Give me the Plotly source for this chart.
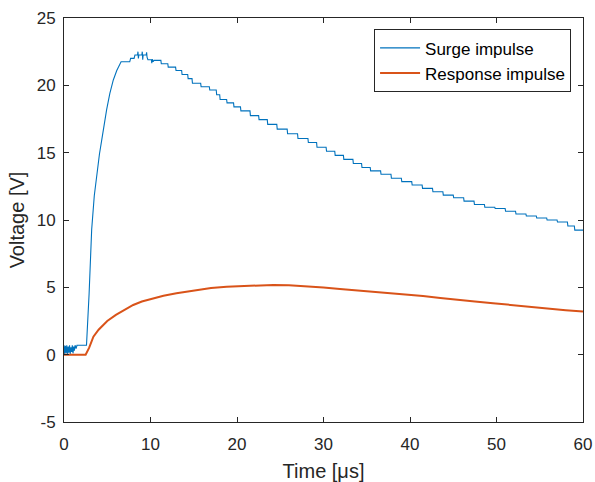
import plotly.graph_objects as go

# Surge impulse (blue)
surge_t = [0.0, 0.08, 0.16, 0.24, 0.32, 0.40, 0.48, 0.56, 0.64, 0.72, 0.80, 0.88, 0.96, 1.04, 1.12, 1.20, 1.28, 1.40, 1.50, 2.60,
           2.9, 3.2, 3.5, 3.8, 4.1, 4.35, 4.6, 4.93, 5.3, 5.7, 6.1, 6.5, 6.6, 7.6, 7.7, 8.1, 8.2, 8.5, 8.55, 8.6, 8.65, 9.0, 9.05,
           9.1, 9.15, 9.5, 9.55, 9.6, 9.7, 10.1, 10.15, 10.2, 10.3, 10.4, 11.2, 11.25, 12.0, 12.05, 12.9, 12.95, 13.6, 13.65,
           14.3, 14.35, 14.8, 14.85, 15.8, 15.85, 16.8, 16.85, 17.6, 17.65, 18.0, 18.05, 18.8, 18.85, 19.6, 19.65, 20.4, 20.45,
           21.5, 21.55, 22.5, 22.55, 23.5, 23.55, 24.6, 24.65, 25.8, 25.85, 27.0, 27.05, 28.2, 28.25, 29.2, 29.25, 30.3, 30.35,
           31.3, 31.35, 32.3, 32.35, 33.4, 33.45, 34.4, 34.45, 35.4, 35.45, 36.6, 36.65, 37.8, 37.85, 39.0, 39.05, 40.2, 40.25,
           41.4, 41.45, 42.6, 42.65, 43.8, 43.85, 45.0, 45.05, 46.2, 46.25, 47.4, 47.45, 48.6, 48.65, 49.8, 49.85, 51.0, 51.05,
           52.2, 52.25, 53.4, 53.45, 54.6, 54.65, 55.8, 55.85, 57.0, 57.05, 58.2, 58.25, 59.0, 59.05, 60.0]
surge_v = [0.7, 0.05, 0.65, 0.1, 0.7, 0.0, 0.6, 0.15, 0.7, 0.05, 0.55, 0.2, 0.7, 0.1, 0.6, 0.3, 0.7, 0.45, 0.7, 0.7,
           4.5, 9.3, 11.8, 13.5, 14.9, 15.9, 17.0, 18.2, 19.4, 20.4, 21.1, 21.6, 21.75, 21.75, 22.0, 22.0, 22.25, 22.25, 22.5, 22.0, 22.25, 22.25, 22.5,
           21.9, 22.25, 22.25, 22.45, 22.1, 21.9, 21.9, 21.65, 21.95, 21.75, 21.85, 21.85, 21.6, 21.6, 21.35, 21.35, 21.1, 21.1, 20.8,
           20.8, 20.5, 20.5, 20.15, 20.15, 19.9, 19.9, 19.65, 19.65, 19.3, 19.3, 18.95, 18.95, 18.7, 18.7, 18.4, 18.4, 18.1,
           18.1, 17.75, 17.75, 17.45, 17.45, 17.1, 17.1, 16.75, 16.75, 16.4, 16.4, 16.05, 16.05, 15.75, 15.75, 15.4, 15.4, 15.1,
           15.1, 14.8, 14.8, 14.5, 14.5, 14.2, 14.2, 13.9, 13.9, 13.65, 13.65, 13.4, 13.4, 13.1, 13.1, 12.85, 12.85, 12.6,
           12.6, 12.35, 12.35, 12.1, 12.1, 11.85, 11.85, 11.65, 11.65, 11.4, 11.4, 11.15, 11.15, 10.95, 10.95, 10.85, 10.85, 10.65,
           10.65, 10.45, 10.45, 10.3, 10.3, 10.15, 10.15, 10.0, 10.0, 9.85, 9.85, 9.55, 9.55, 9.25, 9.25]

# Response impulse (orange)
response_t = [0, 2.5, 2.9, 3.4, 4.0, 4.5, 5.0, 6.0, 7.0, 8.0, 9.0, 10.3, 11.5, 13.0, 14.5, 15.7, 17.0, 18.8, 20.3, 21.9,
              24.2, 26.0, 28.0, 30.0, 31.9, 33.8, 35.8, 37.7, 39.6, 41.5, 43.5, 45.5, 47.5, 49.6, 51.7, 53.8, 55.9, 58.0, 60]
response_v = [0, 0, 0.5, 1.34, 1.85, 2.2, 2.5, 2.95, 3.35, 3.69, 3.95, 4.19, 4.38, 4.56, 4.72, 4.86, 4.95, 5.05, 5.08, 5.15,
              5.18, 5.15, 5.08, 4.98, 4.88, 4.78, 4.68, 4.58, 4.49, 4.35, 4.2, 4.05, 3.95, 3.82, 3.68, 3.55, 3.42, 3.3, 3.2]

x_ticks = [0, 10, 20, 30, 40, 50, 60]
y_ticks = [-5, 0, 5, 10, 15, 20, 25]

FONT = "Liberation Sans, Arial, sans-serif"
AX = "#262626"

fig = go.Figure()
fig.add_trace(go.Scatter(x=surge_t, y=surge_v, mode="lines", name="Surge impulse",
                         line=dict(color="#0072BD", width=1.1)))
fig.add_trace(go.Scatter(x=response_t, y=response_v, mode="lines", name="Response impulse",
                         line=dict(color="#D95319", width=2.0)))

axis_common = dict(showgrid=False, zeroline=False, showline=True, linecolor=AX, linewidth=1,
                   ticks="inside", ticklen=5, tickcolor=AX, mirror="ticks", automargin=False,
                   tickfont=dict(family=FONT, size=17, color=AX))
fig.update_xaxes(range=[0, 60], tickvals=x_ticks, ticktext=[str(v) for v in x_ticks],
                 ticklabelstandoff=7,
                 title=dict(text="Time [μs]", font=dict(family=FONT, size=20, color=AX), standoff=10),
                 **axis_common)
fig.update_yaxes(range=[-5, 25], tickvals=y_ticks, ticktext=[str(v) for v in y_ticks],
                 ticklabelstandoff=4,
                 title=dict(text="Voltage [V]", font=dict(family=FONT, size=20, color=AX), standoff=6),
                 **axis_common)

fig.update_layout(
    width=595, height=482,
    margin=dict(l=64, r=12, t=18, b=60),
    paper_bgcolor="white", plot_bgcolor="white",
    font=dict(family=FONT, color=AX),
    showlegend=True,
    legend=dict(x=0.977, y=0.972, xanchor="right", yanchor="top",
                bgcolor="white", bordercolor=AX, borderwidth=1,
                font=dict(family=FONT, size=17, color="#000000"),
                tracegroupgap=0, itemwidth=40),
)

fig.write_html("out.html", config={"displayModeBar": False},
               post_script="document.body.style.margin='0';document.body.style.padding='0';")
